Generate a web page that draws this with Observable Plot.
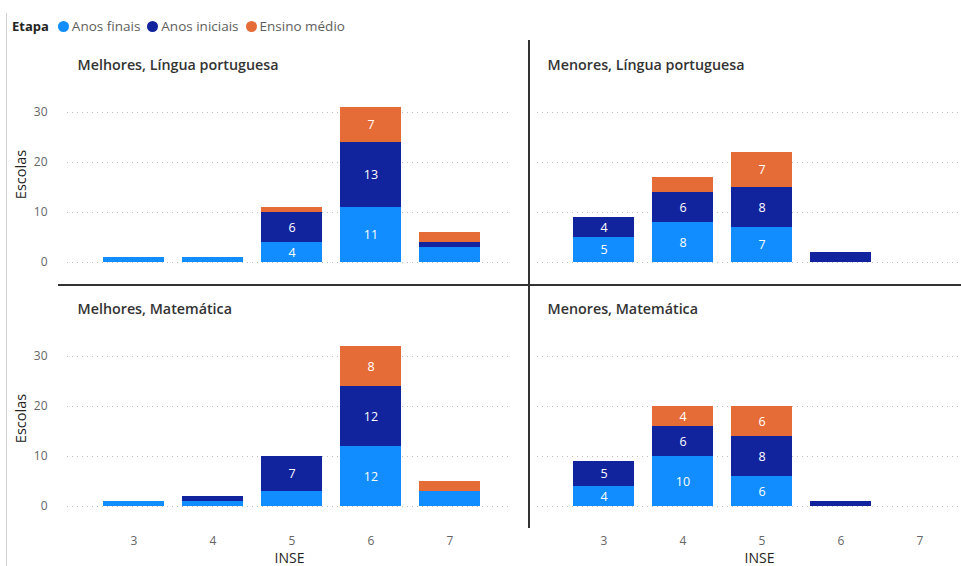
<!DOCTYPE html>
<html>
<head>
<meta charset="utf-8">
<script src="https://cdn.jsdelivr.net/npm/d3@7"></script>
<script src="https://cdn.jsdelivr.net/npm/@observablehq/plot@0.6"></script>
<style>
  html, body { margin: 0; padding: 0; background: #fff; overflow: hidden; }
  #wrap { position: relative; width: 961px; height: 566px; overflow: hidden; font-family: "Open Sans", "Noto Sans", sans-serif; }
  #legend { position: absolute; left: 12px; top: 17px; display: flex; align-items: center; font-size: 13.5px; color: #605E5C; white-space: nowrap; }
  #legend b { color: #252423; font-weight: 700; margin-right: 9px; font-size: 13px; }
  #legend .it { display: flex; align-items: center; margin-right: 7px; }
  #legend .dot { width: 11px; height: 11px; border-radius: 50%; margin-right: 3px; }
  #chart { position: absolute; left: 0; top: 40px; }
  .line { position: absolute; }
</style>
</head>
<body>
<div id="wrap">
  <div class="line" style="left:6px;top:13px;width:1px;height:553px;background:#d0d0d0"></div>
  <div id="legend"></div>
  <div id="chart"></div>
  <div class="line" style="left:58px;top:284px;width:903px;height:1.5px;background:#333"></div>
  <div class="line" style="left:528px;top:40px;width:1.5px;height:488px;background:#333"></div>
</div>
<script>
const inse = [3, 4, 5, 6, 7];
const etapas = ["Anos finais", "Anos iniciais", "Ensino médio"];
const cores = ["#118DFF", "#12239E", "#E66C37"];
const grupos = ["Melhores", "Menores"];
const disciplinas = ["Língua portuguesa", "Matemática"];
const yTicks = [0, 10, 20, 30];

// values per INSE 3..7 for [Anos finais, Anos iniciais, Ensino médio]
const melhoresLP = [[1, 1, 4, 11, 3], [0, 0, 6, 13, 1], [0, 0, 1, 7, 2]];
const menoresLP  = [[5, 8, 7, 0, 0], [4, 6, 8, 2, 0], [0, 3, 7, 0, 0]];
const melhoresMat = [[1, 1, 3, 12, 3], [0, 1, 7, 12, 0], [0, 0, 0, 8, 2]];
const menoresMat  = [[4, 10, 6, 0, 0], [5, 6, 8, 1, 0], [0, 4, 6, 0, 0]];

const panels = [
  {grupo: "Melhores", disciplina: "Língua portuguesa", values: melhoresLP},
  {grupo: "Menores", disciplina: "Língua portuguesa", values: menoresLP},
  {grupo: "Melhores", disciplina: "Matemática", values: melhoresMat},
  {grupo: "Menores", disciplina: "Matemática", values: menoresMat}
];

const data = [];
for (const p of panels) {
  etapas.forEach((e, k) => {
    inse.forEach((x, i) => {
      const v = p.values[k][i];
      if (v > 0) data.push({grupo: p.grupo, disciplina: p.disciplina, etapa: e, inse: x, value: v});
    });
  });
}
const titles = panels.map(p => ({grupo: p.grupo, disciplina: p.disciplina, title: `${p.grupo}, ${p.disciplina}`}));

// legend
const leg = document.getElementById("legend");
leg.innerHTML = "<b>Etapa</b>" + etapas.map((e, i) =>
  `<span class="it"><span class="dot" style="background:${cores[i]}"></span>${e}</span>`).join("");

const font = "'Open Sans', 'Noto Sans', sans-serif";
const chart = Plot.plot({
  width: 985,
  height: 526,
  marginLeft: 67,
  marginRight: 3,
  marginTop: 22,
  marginBottom: 60,
  style: {fontFamily: font, maxWidth: "none", overflow: "visible", background: "transparent"},
  fx: {domain: grupos, axis: null, paddingInner: 0.0552, paddingOuter: 0},
  fy: {domain: disciplinas, axis: null, paddingInner: 0.1813, paddingOuter: 0},
  x: {type: "band", domain: inse, paddingInner: 0.23, paddingOuter: 0.42, align: 0.54, label: null},
  y: {domain: [0, 40], label: null},
  color: {domain: etapas, range: cores},
  marks: [
    Plot.gridY(yTicks, {stroke: "#bdbdbd", strokeOpacity: 1, strokeDasharray: "1,4"}),
    Plot.barY(data, {fx: "grupo", fy: "disciplina", x: "inse", y: "value", fill: "etapa", z: "etapa"}),
    Plot.text(data, Plot.stackY({fx: "grupo", fy: "disciplina", x: "inse", y: "value", z: "etapa",
      text: d => d.value >= 4 ? String(d.value) : null, fill: "white", fontSize: 12.5, fontWeight: 500})),
    Plot.axisY(yTicks, {tickSize: 0, tickPadding: 20, fontSize: 12, fill: "#666", label: null}),
    Plot.axisX({tickSize: 0, tickPadding: 30, fontSize: 12, fill: "#666", label: null}),
    Plot.text(titles, {fx: "grupo", fy: "disciplina", text: "title", frameAnchor: "top-left",
      lineAnchor: "middle", dx: 10, dy: 3, fontSize: 14.3, fontWeight: 600, fill: "#333"}),
    Plot.text(titles.filter(d => d.grupo === "Melhores"), {fx: "grupo", fy: "disciplina", text: () => "Escolas",
      frameAnchor: "left", textAnchor: "middle", rotate: -90, dx: -46, dy: 12, fontSize: 14.5, fontWeight: 500,
      fill: "#252423", lineAnchor: "middle"}),
    Plot.text(titles.filter(d => d.disciplina === "Matemática"), {fx: "grupo", fy: "disciplina", text: () => "INSE",
      frameAnchor: "bottom", dy: 52, fontSize: 14, fontWeight: 500, fill: "#252423", lineAnchor: "middle"})
  ]
});
document.getElementById("chart").appendChild(chart);
</script>
</body>
</html>
